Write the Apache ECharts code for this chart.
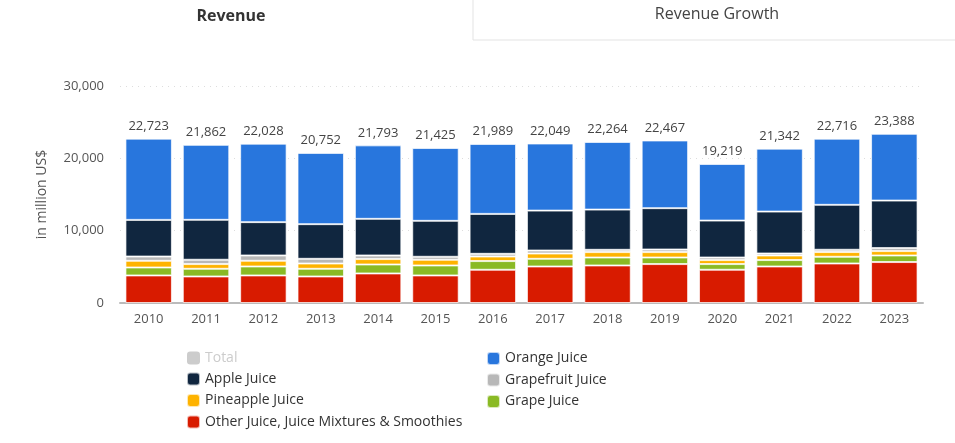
<!DOCTYPE html>
<html>
<head>
<meta charset="utf-8">
<script src="https://cdn.jsdelivr.net/npm/echarts@6/dist/echarts.min.js"></script>
<style>
  html, body { margin: 0; padding: 0; background: #fff; }
  #main { width: 955px; height: 443px; }
</style>
</head>
<body>
<div id="main"></div>
<script>
// juice market revenue by segment, in million US$
const years = ['2010', '2011', '2012', '2013', '2014', '2015', '2016', '2017', '2018', '2019', '2020', '2021', '2022', '2023']
const total = [22723, 21862, 22028, 20752, 21793, 21425, 21989, 22049, 22264, 22467, 19219, 21342, 22716, 23388]
const other = [3810, 3670, 3810, 3670, 4085, 3810, 4595, 5050, 5190, 5380, 4595, 5050, 5465, 5660]
const grape = [1100, 1060, 1240, 1060, 1240, 1380, 1200, 1060, 1100, 910, 785, 885, 925, 910]
const pineapple = [925, 650, 790, 730, 745, 785, 635, 730, 745, 745, 550, 635, 650, 605]
const grapefruit = [590, 600, 730, 650, 500, 415, 370, 415, 320, 360, 360, 275, 320, 415]
const apple = [5065, 5520, 4610, 4790, 5065, 4970, 5520, 5520, 5560, 5715, 5105, 5795, 6210, 6570]
// orange is what is left of the total
const orange = total.map((t, i) => t - other[i] - grape[i] - pineapple[i] - grapefruit[i] - apple[i])
const yTicks = [0, 10000, 20000, 30000]

const font = '"Open Sans", "Noto Sans", sans-serif'

function seg (name, data, color, label) {
  let s = {
    name: name,
    type: 'bar',
    stack: 'rev',
    data: data,
    barCategoryGap: '19%',
    itemStyle: { color: color, borderColor: 'rgba(255,255,255,0.7)', borderWidth: 1 }
  }
  if (label) {
    s.label = {
      show: true,
      position: 'top',
      distance: 6,
      color: '#444',
      fontFamily: font,
      fontSize: 13,
      formatter: p => total[p.dataIndex].toLocaleString('en-US')
    }
  }
  return s
}

let myChart = echarts.init(document.getElementById('main'))
let options = {
  animation: false,
  textStyle: { fontFamily: font },
  graphic: [
    {
      type: 'rect',
      shape: { x: 473, y: -1, width: 483, height: 41 },
      style: { fill: '#fff', stroke: '#e3e3e3', lineWidth: 1 }
    },
    {
      type: 'text',
      x: 231, y: 16,
      style: { text: 'Revenue', fontFamily: font, fontSize: 16, fontWeight: 'bold', fill: '#333', align: 'center', verticalAlign: 'middle' }
    },
    {
      type: 'text',
      x: 717, y: 14,
      style: { text: 'Revenue Growth', fontFamily: font, fontSize: 16, fill: '#444', align: 'center', verticalAlign: 'middle' }
    }
  ],
  grid: { left: 120, right: 32, top: 86, bottom: 140 },
  legend: [
    {
      orient: 'vertical',
      left: 181, top: 346,
      itemWidth: 13, itemHeight: 13, itemGap: 6.5, itemTextGap: 6,
      icon: 'roundRect',
      textStyle: { color: '#333', fontSize: 14, lineHeight: 14, fontFamily: font },
      inactiveColor: '#ccc',
      selected: { 'Total': false },
      data: ['Total', 'Apple Juice', 'Pineapple Juice', 'Other Juice, Juice Mixtures & Smoothies']
    },
    {
      orient: 'vertical',
      left: 481, top: 346,
      itemWidth: 13, itemHeight: 13, itemGap: 6.5, itemTextGap: 6,
      icon: 'roundRect',
      textStyle: { color: '#333', fontSize: 14, lineHeight: 14, fontFamily: font },
      data: ['Orange Juice', 'Grapefruit Juice', 'Grape Juice']
    }
  ],
  xAxis: {
    type: 'category',
    data: years,
    axisLine: { lineStyle: { color: '#bbb', width: 2 } },
    axisTick: { show: false },
    axisLabel: { color: '#555', fontSize: 13, margin: 10 }
  },
  yAxis: {
    type: 'value',
    min: yTicks[0],
    max: yTicks[yTicks.length - 1],
    interval: yTicks[1] - yTicks[0],
    name: 'in million US$',
    nameLocation: 'middle',
    nameGap: 71,
    nameTextStyle: { color: '#555', fontSize: 14 },
    axisLabel: {
      color: '#555',
      fontSize: 13,
      margin: 16,
      formatter: v => v.toLocaleString('en-US')
    },
    axisLine: { show: false },
    axisTick: { show: false },
    splitLine: { lineStyle: { color: '#ddd', type: [1, 5] } }
  },
  series: [
    seg('Other Juice, Juice Mixtures & Smoothies', other, '#d81b00'),
    seg('Grape Juice', grape, '#8aba24'),
    seg('Pineapple Juice', pineapple, '#feb300'),
    seg('Grapefruit Juice', grapefruit, '#b8b8b8'),
    seg('Apple Juice', apple, '#10263f'),
    seg('Orange Juice', orange, '#2876dd', true),
    {
      name: 'Total',
      type: 'line',
      data: total,
      symbol: 'none',
      itemStyle: { color: '#ccc' },
      lineStyle: { color: '#ccc' }
    }
  ]
}
myChart.setOption(options)
</script>
</body>
</html>
